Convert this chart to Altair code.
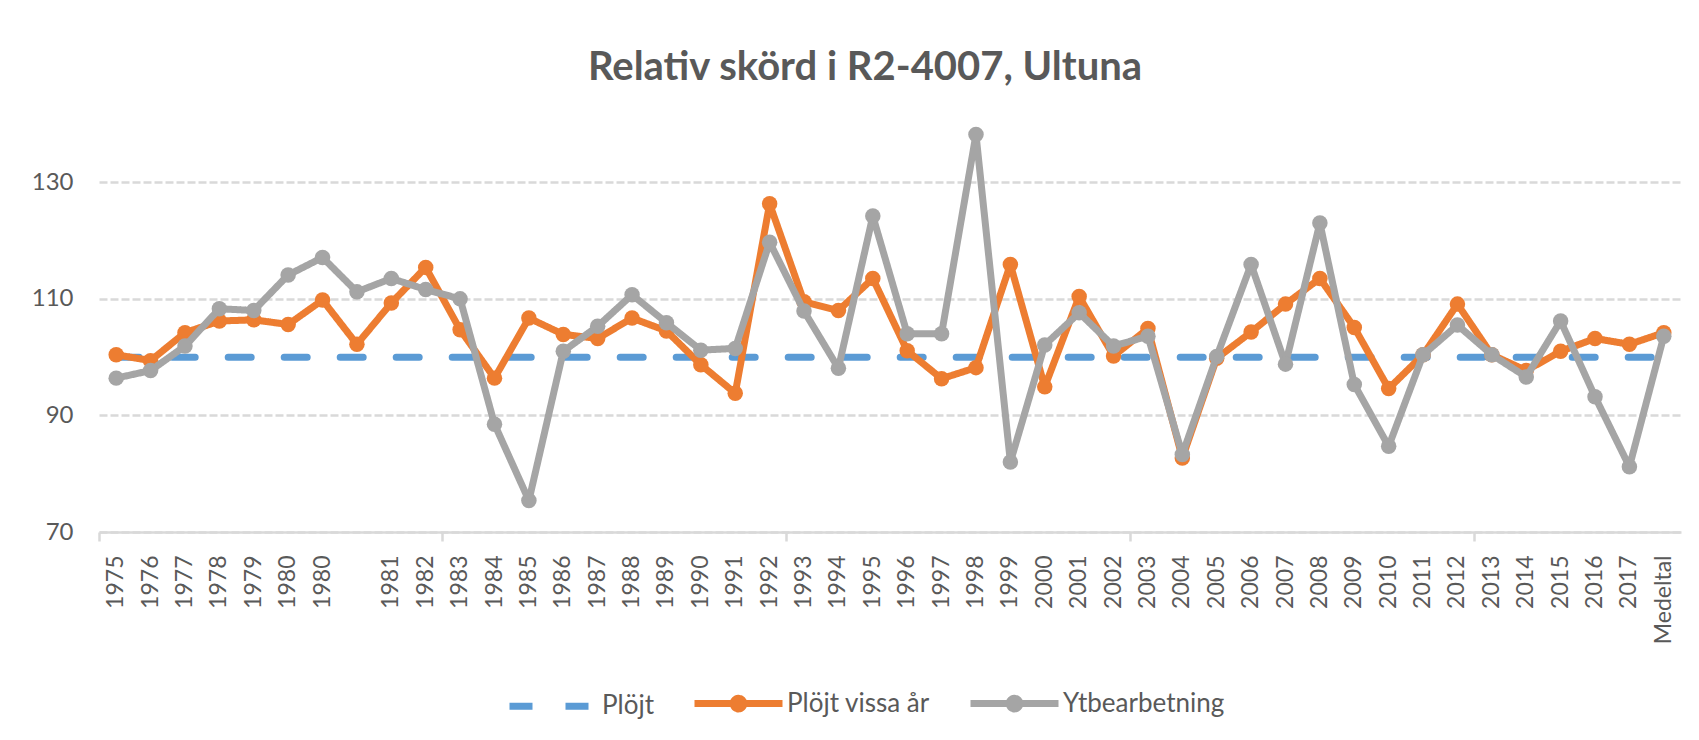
import json
import altair as alt
import pandas as pd

labels = ["1975", "1976", "1977", "1978", "1979", "1980", "1980", "", "1981", "1982",
          "1983", "1984", "1985", "1986", "1987", "1988", "1989", "1990", "1991", "1992",
          "1993", "1994", "1995", "1996", "1997", "1998", "1999", "2000", "2001", "2002",
          "2003", "2004", "2005", "2006", "2007", "2008", "2009", "2010", "2011", "2012",
          "2013", "2014", "2015", "2016", "2017", "Medeltal"]

series_names = ["Plöjt", "Plöjt vissa år", "Ytbearbetning"]

plojt = [100, 100, 100, 100, 100, 100, 100, 100, 100, 100,
         100, 100, 100, 100, 100, 100, 100, 100, 100, 100,
         100, 100, 100, 100, 100, 100, 100, 100, 100, 100,
         100, 100, 100, 100, 100, 100, 100, 100, 100, 100,
         100, 100, 100, 100, 100, 100]

plojt_vissa_ar = [100.4, 99.4, 104.2, 106.2, 106.4, 105.6, 109.8, 102.2, 109.3, 115.4,
                  104.7, 96.4, 106.7, 103.9, 103.2, 106.7, 104.5, 98.7, 93.8, 126.3,
                  109.5, 108.0, 113.5, 101.1, 96.3, 98.2, 115.9, 94.9, 110.4, 100.2,
                  104.9, 82.7, 99.8, 104.3, 109.1, 113.5, 105.1, 94.6, 100.4, 109.1,
                  100.4, 97.7, 101.0, 103.2, 102.2, 104.2]

ytbearbetning = [96.4, 97.7, 101.9, 108.3, 108.0, 114.1, 117.1, 111.2, 113.5, 111.6,
                 110.0, 88.5, 75.4, 101.0, 105.3, 110.7, 105.9, 101.2, 101.5, 119.7,
                 107.9, 98.1, 124.2, 104.0, 104.0, 138.2, 82.0, 102.1, 107.6, 101.9,
                 103.6, 83.3, 100.1, 115.9, 98.8, 123.0, 95.3, 84.7, 100.4, 105.5,
                 100.4, 96.6, 106.2, 93.2, 81.2, 103.6]

colors = ["#5B9BD5", "#ED7D31", "#A5A5A5"]
dashes = [[23, 33], [1, 0], [1, 0]]

rows = []
for name, vals in zip(series_names, [plojt, plojt_vissa_ar, ytbearbetning]):
    for i, v in enumerate(vals):
        rows.append({"idx": i, "series": name, "value": v})
df = pd.DataFrame(rows)

FONT = "Lato"
TXT = "#595959"
GRID = "#D9D9D9"

label_expr = json.dumps(labels) + "[datum.value]"

x_enc = alt.X(
    "idx:O", title=None,
    scale=alt.Scale(type="band", paddingInner=0, paddingOuter=0),
    axis=alt.Axis(
        labelExpr=label_expr, labelAngle=-90, labelFont=FONT, labelFontSize=23,
        labelColor=TXT, labelPadding=14, bandPosition=0, ticks=True, tickSize=9,
        tickColor=GRID, tickWidth=2.5, domainColor=GRID, domainWidth=2.5, grid=False,
        labelOverlap=False,
        tickOpacity={"condition": {"test": "datum.value % 10 === 0", "value": 1}, "value": 0},
    ),
)
y_enc = alt.Y(
    "value:Q", title=None,
    scale=alt.Scale(domain=[70, 140], nice=False, zero=False),
    axis=alt.Axis(
        values=[70, 90, 110, 130], grid=True, gridColor=GRID, gridDash=[8, 3],
        gridWidth=2.5, domain=False, ticks=False, labelPadding=26, labelFont=FONT,
        labelFontSize=24, labelColor=TXT,
    ),
)

circle_path = "M-1,0L1,0M-0.12,0A0.12,0.12,0,1,1,0.12,0A0.12,0.12,0,1,1,-0.12,0Z"
legend = alt.Legend(
    title=None, orient="none", direction="horizontal", legendX=407, legendY=532,
    symbolType=alt.ExprRef("datum.value === 'Plöjt' ? 'stroke' : '" + circle_path + "'"),
    symbolFillColor=alt.ExprRef("scale('color', datum.value)"),
    symbolSize=7744, symbolStrokeWidth=7, labelFont=FONT, labelLimit=400,
    labelFontSize=26, labelColor=TXT, labelOffset=1, columnPadding=26,
)

color_enc = alt.Color("series:N", scale=alt.Scale(domain=series_names, range=colors), legend=legend)
dash_enc = alt.StrokeDash("series:N", scale=alt.Scale(domain=series_names, range=dashes), legend=legend)

base = alt.Chart(df)
layers = []
for k, name in enumerate(series_names):
    sub = base.transform_filter(alt.datum.series == name)
    layers.append(
        sub.mark_line(strokeWidth=7, strokeCap="round", strokeJoin="round").encode(
            x=x_enc, y=y_enc, color=color_enc, strokeDash=dash_enc, order="idx:O"
        )
    )
    if k > 0:
        layers.append(
            sub.mark_circle(size=240, opacity=1, color=colors[k]).encode(x=x_enc, y=y_enc)
        )

chart = alt.layer(*layers).properties(
    width=1582, height=408,
    title=alt.TitleParams(
        text="Relativ skörd i R2-4007, Ultuna", font=FONT, fontSize=40,
        fontWeight="bold", color=TXT, anchor="middle", dx=-25, offset=36,
    ),
    padding={"left": 23, "top": 40, "right": 5, "bottom": 5},
).configure(background="white").configure_view(stroke=None)

chart.save("out.html", embed_options={"renderer": "svg", "actions": False})
